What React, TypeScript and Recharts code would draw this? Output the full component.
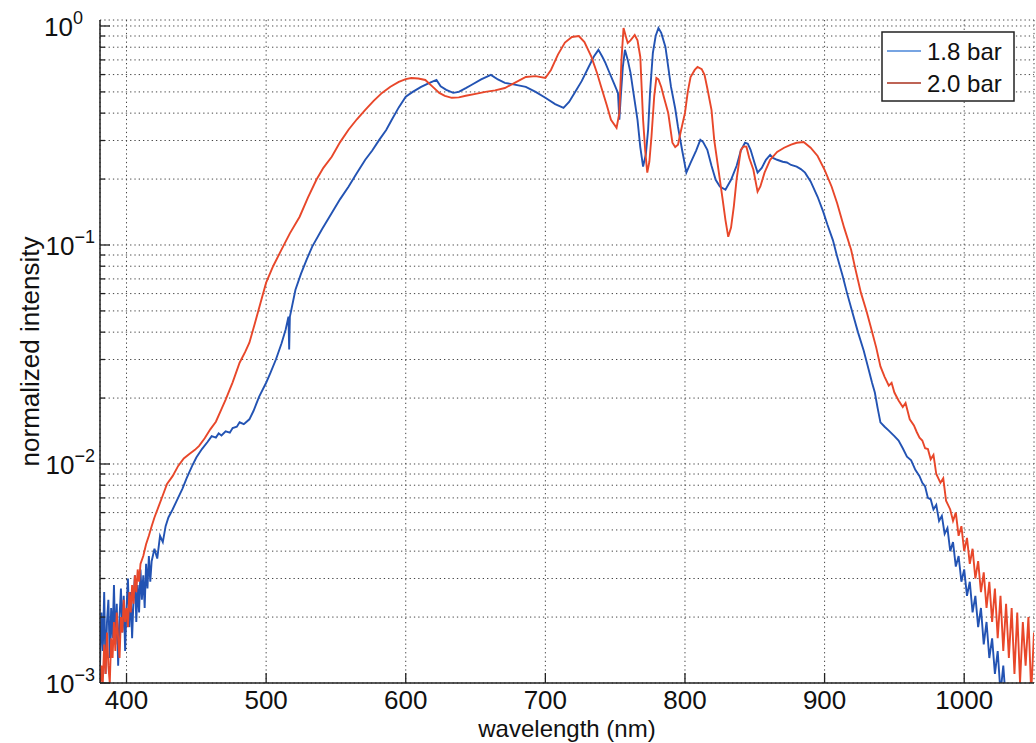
import React from 'react';
import { LineChart, Line, XAxis, YAxis, CartesianGrid, Legend, Label } from 'recharts';

const FONT = '"Liberation Sans", Arial, Helvetica, sans-serif';

const xTicks = [400, 500, 600, 700, 800, 900, 1000];
const yTicks = [
  0.001, 0.002, 0.003, 0.004, 0.005, 0.006, 0.007, 0.008, 0.009,
  0.01, 0.02, 0.03, 0.04, 0.05, 0.06, 0.07, 0.08, 0.09,
  0.1, 0.2, 0.3, 0.4, 0.5, 0.6, 0.7, 0.8, 0.9, 1,
];
const xDomain = [381, 1050];
const yDomain = [0.001, 1.065];

const seriesNames = ['1.8 bar', '2.0 bar'];
const seriesColors = ['#2353b3', '#e8472a'];
const legendColors = ['#4a86d8', '#a8301e'];

// 1.8 bar: [wavelength nm, normalized intensity]
const blue18: [number, number][] = [
  [381, 0.0012], [382, 0.0021], [383, 0.0014], [384, 0.0026], [385, 0.0011], [386, 0.0019], [387, 0.0024],
  [388, 0.0013], [389, 0.0022], [390, 0.0016], [391, 0.0028], [392, 0.0015], [393, 0.0023], [394, 0.0012],
  [395, 0.002], [396, 0.0027], [397, 0.0017], [398, 0.0025], [399, 0.0014], [400, 0.0022], [401, 0.003],
  [402, 0.0018], [403, 0.0026], [404, 0.0016], [405, 0.0024], [406, 0.0031], [407, 0.0019], [408, 0.0028],
  [409, 0.0021], [410, 0.0033], [411, 0.0024], [412, 0.0031], [413, 0.0022], [414, 0.0035], [415, 0.0027],
  [416, 0.0038], [417, 0.0029], [418, 0.0036], [420, 0.0041], [422, 0.0037], [424, 0.0047], [426, 0.0044],
  [428, 0.0052], [430, 0.0057], [433, 0.0062], [436, 0.0068], [440, 0.0077], [443, 0.0086], [447, 0.0098],
  [450, 0.0107], [454, 0.0117], [458, 0.0126], [461, 0.0134], [464, 0.0132], [466, 0.0138], [468, 0.0135],
  [471, 0.0141], [474, 0.0139], [476, 0.0146], [479, 0.0148], [481, 0.0155], [484, 0.0152], [488, 0.016],
  [491, 0.0175], [495, 0.0203], [500, 0.0235], [503, 0.026], [507, 0.03], [511, 0.0355], [514, 0.0411],
  [516, 0.0471], [516.5, 0.0333], [517, 0.047], [521, 0.0625], [525, 0.074], [529, 0.0857], [533, 0.0983],
  [540, 0.118], [547, 0.14], [553, 0.162], [559, 0.1845], [565, 0.213], [571, 0.245], [576, 0.27],
  [581, 0.302], [586, 0.335], [590, 0.373], [595, 0.425], [600, 0.475], [605, 0.5], [611, 0.527],
  [617, 0.55], [622, 0.567], [625, 0.53], [629, 0.511], [634, 0.495], [638, 0.5], [643, 0.52],
  [647, 0.538], [654, 0.57], [661, 0.598], [666, 0.57], [671, 0.55], [678, 0.54], [686, 0.527],
  [693, 0.5], [700, 0.47], [707, 0.44], [713, 0.423], [717, 0.45], [721, 0.495], [726, 0.56],
  [731, 0.65], [735, 0.73], [738, 0.778], [741, 0.72], [743, 0.678], [746, 0.61], [749, 0.55],
  [752, 0.495], [753, 0.373], [754, 0.475], [755.5, 0.65], [757, 0.778], [759, 0.7], [761, 0.611],
  [763, 0.5], [766, 0.373], [768, 0.28], [770, 0.228], [772, 0.26], [773.6, 0.336], [775, 0.5],
  [777, 0.753], [779, 0.9], [781, 0.979], [783, 0.93], [786, 0.802], [788, 0.65], [790, 0.527],
  [793, 0.42], [795, 0.346], [798, 0.27], [801, 0.214], [804, 0.237], [808, 0.27], [811, 0.302],
  [813, 0.295], [816, 0.272], [819, 0.23], [822, 0.1986], [825, 0.185], [829, 0.1787], [833, 0.1986],
  [837, 0.23], [840, 0.27], [843, 0.293], [845, 0.29], [847, 0.272], [850, 0.235], [852, 0.214],
  [855, 0.225], [858, 0.245], [861, 0.258], [863, 0.25], [866, 0.245], [870, 0.24], [873, 0.238],
  [876, 0.232], [880, 0.228], [883, 0.222], [886, 0.214], [890, 0.195], [895, 0.166], [899, 0.142],
  [902, 0.124], [906, 0.105], [909, 0.0885], [913, 0.072], [916, 0.0606], [920, 0.049], [924, 0.0398],
  [928, 0.033], [931, 0.0279], [934, 0.0235], [936, 0.0212], [938, 0.018], [940, 0.0155], [943, 0.0148],
  [946, 0.0142], [950, 0.0134], [953, 0.0128], [956, 0.0118], [959, 0.0108], [962, 0.0104], [965, 0.0094],
  [968, 0.0088], [970, 0.0082], [972, 0.0079], [974, 0.007], [976, 0.0069], [978, 0.0062], [980, 0.0065],
  [982, 0.0055], [984, 0.0058], [986, 0.0048], [988, 0.0051], [990, 0.004], [992, 0.0044], [994, 0.0034],
  [996, 0.0038], [998, 0.0029], [1000, 0.0033], [1002, 0.0025], [1004, 0.0029], [1006, 0.0021], [1008, 0.0025],
  [1010, 0.0018], [1012, 0.0022], [1014, 0.0015], [1016, 0.0019], [1018, 0.0013], [1020, 0.0016], [1022, 0.0011],
  [1024, 0.0014], [1026, 0.0009], [1028, 0.0012], [1030, 0.0008], [1034, 0.0007],
];

// 2.0 bar: [wavelength nm, normalized intensity]
const red20: [number, number][] = [
  [381, 0.0009], [382, 0.0012], [383, 0.001], [384, 0.0015], [385, 0.0011], [386, 0.0017], [387, 0.0012],
  [388, 0.001], [389, 0.0016], [390, 0.0013], [391, 0.0019], [392, 0.0014], [393, 0.0021], [394, 0.0016],
  [395, 0.0013], [396, 0.002], [397, 0.0017], [398, 0.0024], [399, 0.0019], [400, 0.0022], [401, 0.0018],
  [402, 0.0026], [403, 0.0021], [404, 0.0028], [405, 0.0023], [406, 0.0031], [407, 0.0026], [408, 0.0033],
  [409, 0.0029], [410, 0.0035], [412, 0.0038], [414, 0.0043], [416, 0.0047], [418, 0.0052], [420, 0.0057],
  [423, 0.0064], [426, 0.0072], [429, 0.0081], [433, 0.0088], [437, 0.0098], [441, 0.0106], [445, 0.0111],
  [449, 0.0116], [452, 0.0121], [456, 0.0131], [460, 0.0144], [464, 0.0156], [468, 0.0178], [471, 0.0197],
  [476, 0.0236], [481, 0.029], [485, 0.0325], [488, 0.0358], [492, 0.044], [496, 0.0545], [500, 0.0673],
  [505, 0.08], [511, 0.0952], [517, 0.113], [524, 0.1346], [530, 0.165], [536, 0.1986], [541, 0.225],
  [547, 0.253], [553, 0.295], [559, 0.336], [565, 0.375], [571, 0.414], [577, 0.455], [583, 0.495],
  [589, 0.528], [595, 0.556], [600, 0.572], [604, 0.579], [609, 0.576], [614, 0.567], [619, 0.53],
  [624, 0.495], [628, 0.48], [633, 0.47], [638, 0.472], [643, 0.48], [650, 0.49], [657, 0.5],
  [664, 0.508], [671, 0.521], [678, 0.55], [686, 0.585], [693, 0.59], [700, 0.579], [704, 0.63],
  [709, 0.74], [714, 0.84], [719, 0.891], [724, 0.9], [728, 0.845], [733, 0.722], [737, 0.61],
  [740, 0.527], [744, 0.435], [747, 0.373], [751, 0.343], [753, 0.4], [754.5, 0.7], [756, 0.979],
  [758, 0.88], [759, 0.837], [761, 0.86], [764, 0.91], [766, 0.86], [768, 0.722], [770, 0.373],
  [771.5, 0.27], [773, 0.214], [774.5, 0.24], [776, 0.312], [778, 0.48], [779.5, 0.579], [781, 0.57],
  [783, 0.527], [785, 0.47], [788, 0.401], [791, 0.293], [793, 0.28], [795, 0.287], [797, 0.33],
  [800, 0.401], [802, 0.5], [804, 0.585], [807, 0.63], [809, 0.65], [812, 0.635], [814, 0.598],
  [816, 0.52], [819, 0.414], [821, 0.3], [824, 0.2205], [827, 0.161], [829, 0.13], [831, 0.109],
  [833, 0.12], [835, 0.15], [837, 0.2], [840, 0.272], [842, 0.282], [844, 0.281], [846, 0.25],
  [849, 0.2205], [852, 0.175], [854, 0.185], [857, 0.214], [861, 0.245], [866, 0.266], [871, 0.278],
  [876, 0.287], [880, 0.293], [885, 0.295], [890, 0.278], [895, 0.255], [900, 0.2205], [905, 0.185],
  [909, 0.155], [914, 0.12], [919, 0.0952], [922, 0.078], [926, 0.0606], [930, 0.05], [933, 0.0424],
  [937, 0.034], [940, 0.0279], [943, 0.025], [946, 0.0228], [948, 0.0235], [950, 0.0212], [953, 0.0195],
  [956, 0.0182], [958, 0.019], [961, 0.016], [964, 0.015], [966, 0.014], [968, 0.0132], [970, 0.0128],
  [972, 0.0118], [974, 0.0117], [976, 0.0105], [978, 0.011], [980, 0.009], [983, 0.0082], [985, 0.0086],
  [987, 0.0068], [990, 0.0062], [992, 0.0055], [994, 0.006], [996, 0.0047], [998, 0.0052], [1000, 0.004],
  [1002, 0.0046], [1004, 0.0035], [1006, 0.0041], [1008, 0.003], [1010, 0.0036], [1012, 0.0026], [1014, 0.0032],
  [1016, 0.0022], [1018, 0.0029], [1020, 0.0019], [1022, 0.0027], [1024, 0.0016], [1026, 0.0025], [1028, 0.0014],
  [1030, 0.0023], [1032, 0.0013], [1034, 0.0022], [1036, 0.0011], [1038, 0.0021], [1040, 0.001], [1042, 0.0019],
  [1044, 0.0012], [1046, 0.002], [1048, 0.0009], [1050, 0.0017],
];

const toPoints = (arr: [number, number][]) => arr.map(([nm, v]) => ({ nm, v }));
const blueData = toPoints(blue18);
const redData = toPoints(red20);

const AXIS_COLOR = '#222';

const isDecade = (v: number) => Math.abs(Math.log10(v) - Math.round(Math.log10(v))) < 1e-9;

const LeftTick = (props: any) => {
  const { x, y, payload } = props;
  const v = payload.value;
  const major = isDecade(v);
  const exp = Math.round(Math.log10(v));
  return (
    <g>
      <line x1={x} x2={x + (major ? 10 : 5)} y1={y} y2={y} stroke={AXIS_COLOR} strokeWidth={1.3} />
      {major && (
        <text
          x={exp === 0 ? x - 17 : x - 5}
          y={y + 10}
          textAnchor="end"
          fontFamily={FONT}
          fontSize={26}
          fill="#111"
        >
          10
          <tspan dy={-12} fontSize={18}>
            {exp === 0 ? '0' : '\u2212' + Math.abs(exp)}
          </tspan>
        </text>
      )}
    </g>
  );
};

const RightTick = (props: any) => {
  const { x, y, payload } = props;
  const major = isDecade(payload.value);
  return <line x1={x} x2={x - (major ? 10 : 5)} y1={y} y2={y} stroke={AXIS_COLOR} strokeWidth={1.3} />;
};

const BottomTick = (props: any) => {
  const { x, y, payload } = props;
  return (
    <g>
      <line x1={x} x2={x} y1={y} y2={y - 10} stroke={AXIS_COLOR} strokeWidth={1.3} />
      <text x={x} y={y + 26} textAnchor="middle" fontFamily={FONT} fontSize={26} fill="#111">
        {payload.value}
      </text>
    </g>
  );
};

const TopTick = (props: any) => {
  const { x, y } = props;
  return <line x1={x} x2={x} y1={y} y2={y + 8} stroke={AXIS_COLOR} strokeWidth={1.3} />;
};

const renderLegend = () => (
  <svg width={134} height={71} style={{ display: 'block' }}>
    <rect x={1} y={1} width={132} height={69} fill="#fff" stroke={AXIS_COLOR} strokeWidth={1.5} />
    {seriesNames.map((name, i) => (
      <g key={name}>
        <line x1={6} x2={40} y1={20 + i * 32} y2={20 + i * 32} stroke={legendColors[i]} strokeWidth={1.6} />
        <text x={46} y={29 + i * 32} fontFamily={FONT} fontSize={24} fill="#111">
          {name}
        </text>
      </g>
    ))}
  </svg>
);

export default function App() {
  return (
    <div style={{ position: 'absolute', left: 0, top: 0, width: 1036, height: 743, background: '#fff' }}>
      <LineChart width={1036} height={743} margin={{ top: 20, right: 2, bottom: 0, left: 0 }}>
        <CartesianGrid stroke="#444" strokeDasharray="1.3 3" strokeWidth={1} />
        <XAxis
          dataKey="nm"
          type="number"
          domain={xDomain}
          allowDataOverflow
          ticks={xTicks}
          interval={0}
          height={60}
          tickSize={0}
          tickMargin={0}
          tickLine={false}
          tick={<BottomTick />}
          axisLine={{ stroke: AXIS_COLOR, strokeWidth: 1.5 }}
        >
          <Label
            value="wavelength (nm)"
            position="insideBottom"
            offset={6}
            style={{ fontSize: 24, fontFamily: FONT, fill: '#111' }}
          />
        </XAxis>
        <XAxis
          xAxisId="top"
          orientation="top"
          dataKey="nm"
          type="number"
          domain={xDomain}
          allowDataOverflow
          ticks={xTicks}
          interval={0}
          height={0}
          tickSize={0}
          tickMargin={0}
          tickLine={false}
          tick={<TopTick />}
          axisLine={{ stroke: AXIS_COLOR, strokeWidth: 1.5 }}
        />
        <YAxis
          type="number"
          scale="log"
          domain={yDomain}
          allowDataOverflow
          ticks={yTicks}
          interval={0}
          width={100}
          tickSize={0}
          tickMargin={0}
          tickLine={false}
          tick={<LeftTick />}
          axisLine={{ stroke: AXIS_COLOR, strokeWidth: 1.5 }}
        >
          <Label
            value="normalized intensity"
            angle={-90}
            position="insideLeft"
            offset={30}
            style={{ fontSize: 26, fontFamily: FONT, fill: '#111', textAnchor: 'middle' }}
          />
        </YAxis>
        <YAxis
          yAxisId="right"
          orientation="right"
          type="number"
          scale="log"
          domain={yDomain}
          allowDataOverflow
          ticks={yTicks}
          interval={0}
          width={0}
          tickSize={0}
          tickMargin={0}
          tickLine={false}
          tick={<RightTick />}
          axisLine={{ stroke: AXIS_COLOR, strokeWidth: 1.5 }}
        />
        <Legend
          layout="vertical"
          align="center"
          verticalAlign="middle"
          content={renderLegend}
          wrapperStyle={{ left: 881, top: 31, width: 134, height: 71 }}
        />
        <Line
          data={blueData}
          dataKey="v"
          name={seriesNames[0]}
          stroke={seriesColors[0]}
          strokeWidth={1.9}
          dot={false}
          activeDot={false}
          isAnimationActive={false}
        />
        <Line
          data={redData}
          dataKey="v"
          name={seriesNames[1]}
          stroke={seriesColors[1]}
          strokeWidth={1.9}
          dot={false}
          activeDot={false}
          isAnimationActive={false}
        />
      </LineChart>
    </div>
  );
}
